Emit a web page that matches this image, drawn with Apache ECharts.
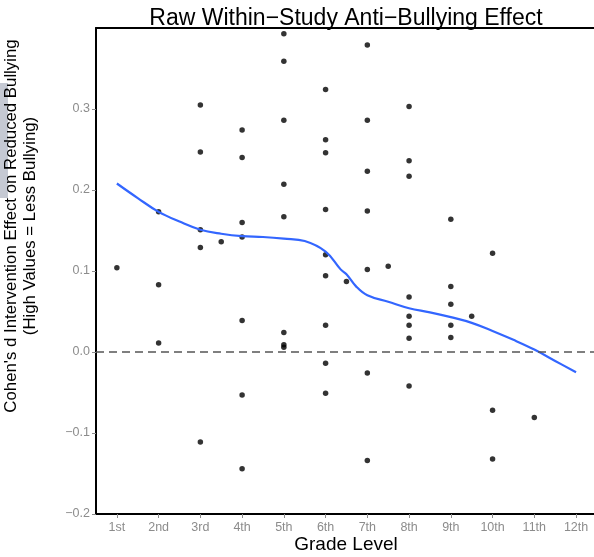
<!DOCTYPE html>
<html>
<head>
<meta charset="utf-8">
<script src="https://cdn.jsdelivr.net/npm/echarts@6/dist/echarts.min.js"></script>
<style>
  html, body { margin: 0; padding: 0; background: #fff; }
  #chart { width: 594px; height: 557px; }
</style>
</head>
<body>
<div id="chart"></div>
<script>
// grade labels on the x axis
var gradeLabels = ['1st', '2nd', '3rd', '4th', '5th', '6th', '7th', '8th', '9th', '10th', '11th', '12th']

// study effects (grade, cohen's d)
var pointGrade = [
  1,
  2, 2, 2,
  3, 3, 3, 3, 3,
  3.5,
  4, 4, 4, 4, 4, 4, 4,
  5, 5, 5, 5, 5, 5, 5, 5,
  6, 6, 6, 6, 6, 6, 6, 6, 6,
  6.5,
  7, 7, 7, 7, 7, 7, 7,
  7.5,
  8, 8, 8, 8, 8, 8, 8, 8,
  9, 9, 9, 9, 9,
  9.5,
  10, 10, 10,
  11, 11,
  12
]
var pointEffect = [
  0.104,
  0.173, 0.083, 0.011,
  0.305, 0.247, 0.151, 0.129, -0.111,
  0.136,
  0.274, 0.240, 0.160, 0.142, 0.039, -0.053, -0.144,
  0.393, 0.359, 0.286, 0.207, 0.167, 0.024, 0.009, 0.006,
  0.324, 0.262, 0.246, 0.176, 0.120, 0.094, 0.033, -0.014, -0.051,
  0.087,
  0.379, 0.286, 0.223, 0.174, 0.102, -0.026, -0.134,
  0.106,
  0.236, 0.217, 0.068, 0.044, 0.033, 0.017, -0.042,
  0.303, 0.081, 0.033, 0.018,
  0.059,
  0.164, 0.044, -0.132,
  0.122, -0.072,
  -0.081
]

// loess fit
var smoothGrade = [1, 1.5, 2, 2.5, 3, 3.5, 4, 4.5, 5, 5.5, 6, 6.36, 6.5, 6.73, 7, 7.5, 8, 8.5, 9, 9.5, 10, 10.5, 11, 11.5, 12]
var smoothEffect = [0.208, 0.190, 0.173, 0.161, 0.151, 0.146, 0.143, 0.142, 0.140, 0.137, 0.124, 0.102, 0.096, 0.081, 0.070, 0.062, 0.054, 0.049, 0.043, 0.036, 0.026, 0.015, 0.003, -0.011, -0.025]

var gradeTicks = [1, 2, 3, 4, 5, 6, 7, 8, 9, 10, 11, 12]
var yTicks = [-0.2, -0.1, 0, 0.1, 0.2, 0.3]

var chart = echarts.init(document.getElementById('chart'))

var points = pointGrade.map(function (g, i) { return [g, pointEffect[i]] })
var smooth = smoothGrade.map(function (g, i) { return [g, smoothEffect[i]] })

var font = 'Liberation Sans, Arial, Helvetica, sans-serif'
var frame = { show: true, onZero: false, lineStyle: { color: '#000', width: 2 } }

var option = {
  animation: false,
  textStyle: { fontFamily: font },
  grid: { left: 96, right: 0, top: 28, bottom: 43 },
  xAxis: [
    {
      type: 'value',
      min: 0.5,
      max: 12.43,
      position: 'bottom',
      splitLine: { show: false },
      axisLine: frame,
      axisTick: {
        show: true, length: 4, lineStyle: { color: '#8c8c8c' },
        customValues: gradeTicks
      },
      axisLabel: {
        color: '#8c8c8c', fontSize: 12.5, margin: 7, fontFamily: font,
        customValues: gradeTicks,
        formatter: function (v) { return gradeLabels[Math.round(v) - 1] }
      }
    },
    {
      type: 'value',
      min: 0.5,
      max: 12.43,
      position: 'top',
      splitLine: { show: false },
      axisLine: frame,
      axisTick: { show: false },
      axisLabel: { show: false }
    }
  ],
  yAxis: {
    type: 'value',
    min: -0.2,
    max: 0.4,
    splitLine: { show: false },
    axisLine: frame,
    axisTick: {
      show: true, length: 4, lineStyle: { color: '#8c8c8c' },
      customValues: yTicks
    },
    axisLabel: {
      color: '#8c8c8c', fontSize: 12.5, margin: 6, fontFamily: font,
      customValues: yTicks,
      formatter: function (v) {
        var s = Math.abs(v).toFixed(1)
        return v < -1e-9 ? '\u2212' + s : s
      }
    }
  },
  graphic: [
    { type: 'rect', shape: { x: 0, y: 83, width: 8, height: 115 }, style: { fill: '#c5c9d3' }, z: 0 },
    {
      type: 'text', x: 346, y: 19, z: 10,
      style: { text: 'Raw Within\u2212Study Anti\u2212Bullying Effect', font: '23px ' + font, fill: '#000', align: 'center', verticalAlign: 'middle' }
    },
    {
      type: 'text', x: 346, y: 545, z: 10,
      style: { text: 'Grade Level', font: '19px ' + font, fill: '#000', align: 'center', verticalAlign: 'middle' }
    },
    {
      type: 'text', x: 21, y: 226, rotation: Math.PI / 2, z: 10,
      style: {
        text: 'Cohen\'s d Intervention Effect on Reduced Bullying\n(High Values = Less Bullying)',
        font: '16.8px ' + font, fill: '#000', align: 'center', verticalAlign: 'middle', lineHeight: 19
      }
    }
  ],
  series: [
    {
      type: 'scatter',
      data: points,
      symbolSize: 5.5,
      itemStyle: { color: '#000' },
      z: 3,
      markLine: {
        silent: true,
        symbol: 'none',
        label: { show: false },
        lineStyle: { color: '#555', type: [8, 5], width: 1.5 },
        data: [{ yAxis: 0 }]
      }
    },
    {
      type: 'line',
      data: smooth,
      smooth: 0.4,
      showSymbol: false,
      lineStyle: { color: '#3366FF', width: 2.2 },
      z: 4
    }
  ]
}

chart.setOption(option)
</script>
</body>
</html>
